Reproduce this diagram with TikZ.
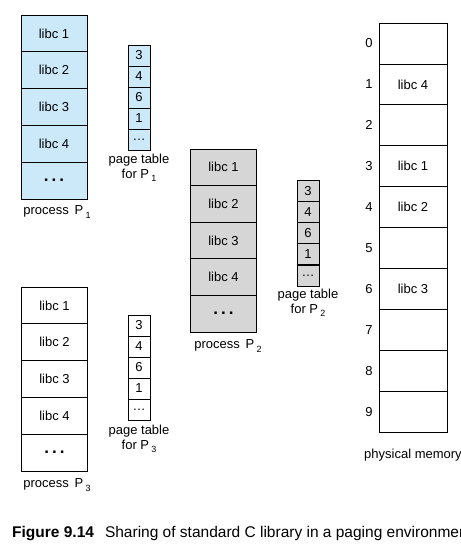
\documentclass[tikz,border=0pt]{standalone}
\usepackage{fontspec}
\setmainfont{Liberation Sans}
\usetikzlibrary{positioning}

\definecolor{libblue}{RGB}{204,233,250}
\definecolor{libgray}{RGB}{214,214,214}
\newcommand{\psub}[1]{\,\raisebox{-0.5ex}{\fontsize{9}{9}\selectfont #1}}
\newcommand{\bigdots}{{\fontsize{17}{17}\selectfont\bfseries .\hspace{3pt}.\hspace{3pt}.}}

\begin{document}
\begin{tikzpicture}
  [x=1pt,y=-1pt,
   every node/.style={font=\fontsize{13}{15}\selectfont,inner sep=0pt},
   cell/.style={draw,line width=0.7pt,minimum width=66pt,minimum height=36.8pt},
   entry/.style={draw,line width=0.7pt,minimum width=22pt,minimum height=21pt},
   frame/.style={draw,line width=0.7pt,minimum width=68pt,minimum height=40.9pt},
   lbl/.style={align=center}]
  \useasboundingbox (0,0) rectangle (461,558);
  \clip (0,0) rectangle (461,558);

  % the three processes: libc pages, then their page tables
  \foreach \i/\t in {1/libc 1,2/libc 2,3/libc 3,4/libc 4,5/\bigdots}{
    \node[cell,fill=libblue] (pa\i) at (54,15+36.8*\i-18.4) {\t};
    \node[cell,fill=libgray] (pb\i) at (223.5,149+36.6*\i-18.3) {\t};
    \node[cell] (pc\i) at (54.5,287+36.8*\i-18.4) {\t};
  }
  \foreach \i/\f in {1/3,2/4,3/6,4/1,5/\ldots}{
    \node[entry,fill=libblue] (ta\i) at (139,45+21*\i-10.5) {\f};
    \node[entry,fill=libgray] (tb\i) at (308,180+21.2*\i-10.6) {\f};
    \node[entry] (tc\i) at (139,315+21*\i-10.5) {\f};
  }

  \node[lbl] (pa) at (57,212) {process \,P\psub{1}};
  \node[lbl] (pb) at (228,346) {process \,P\psub{2}};
  \node[lbl] (pc) at (57,485) {process \,P\psub{3}};
  \node[lbl] (ta) at (139,168) {page table\\for P\psub{1}};
  \node[lbl] (tb) at (308,303) {page table\\for P\psub{2}};
  \node[lbl] (tc) at (139,439) {page table\\for P\psub{3}};

  % physical memory
  \foreach \i/\t in {0/,1/libc 4,2/,3/libc 1,4/libc 2,5/,6/libc 3,7/,8/,9/}{
    \node[frame] (m\i) at (413,23+40.9*\i+20.45) {\t};
    \node (n\i) at (369,23+40.9*\i+20.45) {\i};
  }
  \node[lbl] (mem) at (413,455) {physical memory};

  \node[anchor=base west,font=\fontsize{15.5}{17}\selectfont] (cap) at (12,537)
    {\textbf{Figure 9.14}\hspace{11pt}Sharing of standard C library in a paging environment};
\end{tikzpicture}
\end{document}
